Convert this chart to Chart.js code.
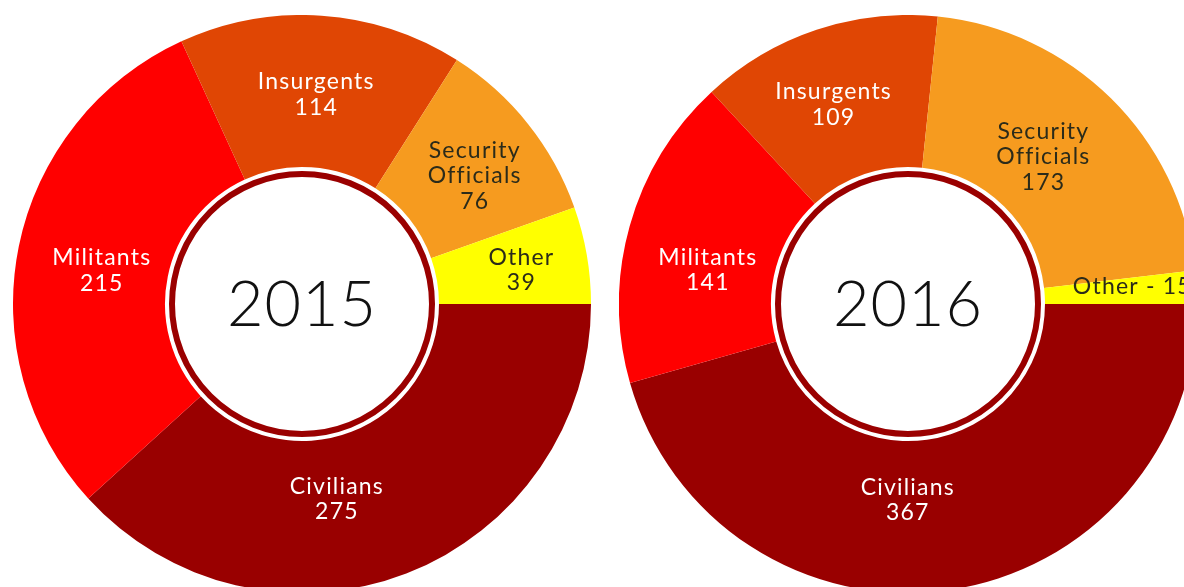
<!DOCTYPE html>
<html>
<head>
<meta charset="utf-8">
<script src="https://cdn.jsdelivr.net/npm/chart.js@4.4.1/dist/chart.umd.min.js"></script>
<style>
  html, body { margin: 0; padding: 0; background: #ffffff; overflow: hidden; width: 1184px; height: 587px; }
  .wrap { position: absolute; width: 578px; height: 578px; top: 15px; }
  #w1 { left: 13px; }
  #w2 { left: 619px; }
</style>
</head>
<body>
<div class="wrap" id="w1"><canvas id="c1"></canvas></div>
<div class="wrap" id="w2"><canvas id="c2"></canvas></div>
<script>
// ---- data ----
const categories = ["Civilians", "Militants", "Insurgents", "Security Officials", "Other"];
const values2015 = [275, 215, 114, 76, 39];
const values2016 = [367, 141, 109, 173, 15];
const years = ["2015", "2016"];

// ---- styles ----
const sliceColors = ["#990000", "#ff0000", "#e04604", "#f69b1f", "#ffff00"];
const textColors = ["#ffffff", "#ffffff", "#ffffff", "#2b2b1a", "#2b2b1a"];
const FONT = "Lato, 'Open Sans', sans-serif";

// label placement nudges (degrees, pixels) relative to arc middle
const nudges2015 = [{da: 11, dr: -15}, {da: -2, dr: -10}, {da: 0, dr: -3}, {da: 2, dr: 2}, {da: 1, dr: 9}];
const nudges2016 = [{da: 8, dr: -17}, {da: -6, dr: -10}, {da: -2, dr: 0}, {da: -2, dr: -13}, {da: -1, dr: 12}];

const centerPlugin = {
  id: 'centerDeco',
  afterDatasetsDraw(chart, args, opts) {
    const ctx = chart.ctx;
    const meta = chart.getDatasetMeta(0);
    const arc0 = meta.data[0];
    const cx = arc0.x, cy = arc0.y;
    const inner = arc0.innerRadius;
    const ds = chart.data.datasets[0];
    const total = ds.data.reduce((a, b) => a + b, 0);
    ctx.save();
    // inner ring
    ctx.beginPath();
    ctx.arc(cx, cy, inner - 7, 0, Math.PI * 2);
    ctx.strokeStyle = "#9a0000";
    ctx.lineWidth = 6;
    ctx.stroke();
    // year text
    ctx.fillStyle = "#111111";
    ctx.font = "300 63px " + FONT;
    ctx.textAlign = "center";
    ctx.textBaseline = "middle";
    ctx.letterSpacing = "1px";
    ctx.fillText(opts.year, cx, cy + 2);
    // slice labels
    ctx.font = "23px " + FONT;
    ctx.letterSpacing = "1.2px";
    meta.data.forEach((arc, i) => {
      const p = arc.getProps(['startAngle', 'endAngle', 'innerRadius', 'outerRadius', 'x', 'y'], true);
      const n = opts.nudges[i] || {da: 0, dr: 0};
      const mid = (p.startAngle + p.endAngle) / 2 + n.da * Math.PI / 180;
      const r = (p.innerRadius + p.outerRadius) / 2 + n.dr;
      const lx = p.x + Math.cos(mid) * r;
      const ly = p.y + Math.sin(mid) * r;
      const name = chart.data.labels[i];
      const val = ds.data[i];
      let lines;
      if (val / total < 0.03) lines = [name + " - " + val];
      else lines = name.split(" ").concat([String(val)]);
      const lh = 25.5;
      ctx.fillStyle = textColors[i];
      lines.forEach((t, k) => {
        ctx.fillText(t, lx, ly + (k - (lines.length - 1) / 2) * lh);
      });
    });
    ctx.restore();
  }
};

function makeChart(id, values, year, nudges) {
  return new Chart(document.getElementById(id), {
    type: 'doughnut',
    data: {
      labels: categories,
      datasets: [{ data: values, backgroundColor: sliceColors, borderWidth: 0, hoverOffset: 0 }]
    },
    options: {
      responsive: true,
      maintainAspectRatio: false,
      animation: false,
      rotation: 90,
      cutout: 137,
      layout: { padding: 0 },
      plugins: {
        legend: { display: false },
        tooltip: { enabled: false },
        centerDeco: { year: year, nudges: nudges }
      }
    },
    plugins: [centerPlugin]
  });
}

makeChart('c1', values2015, years[0], nudges2015);
makeChart('c2', values2016, years[1], nudges2016);
</script>
</body>
</html>
